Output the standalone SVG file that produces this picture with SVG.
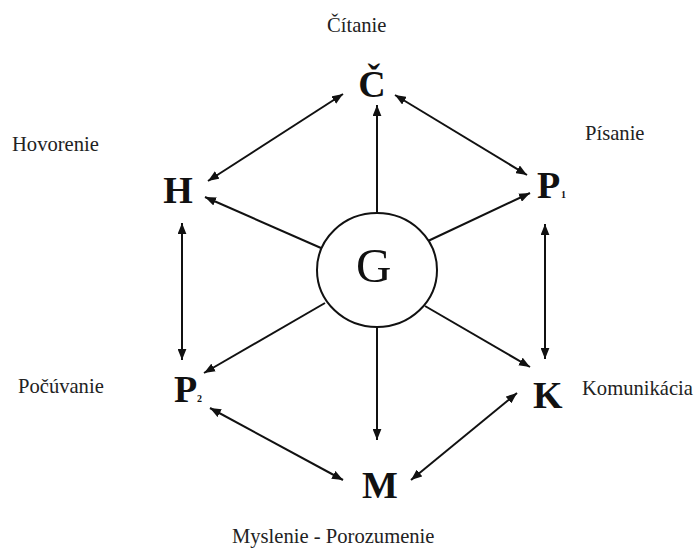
<svg xmlns="http://www.w3.org/2000/svg" width="696" height="548" viewBox="0 0 696 548">
<style>
.lbl{font-family:"Liberation Serif","Times New Roman",serif;font-size:20.6px;fill:#222}
.node{font-family:"Liberation Serif","Times New Roman",serif;font-size:38px;font-weight:bold;fill:#111}
.sub{font-family:"Liberation Serif","Times New Roman",serif;font-size:10px;font-weight:bold;fill:#111}
.ln{stroke:#111;stroke-width:2;fill:none;marker-end:url(#ah)}
.dbl{marker-start:url(#ah)}
</style>
<defs>
<marker id="ah" viewBox="0 0 10 8" refX="10" refY="4" markerWidth="11" markerHeight="9" markerUnits="userSpaceOnUse" orient="auto-start-reverse">
<path d="M0,0 L10,4 L0,8 Z" fill="#111"/>
</marker>
</defs>
<rect width="696" height="548" fill="#fff"/>
<g id="labels">
<text class="lbl" x="327" y="32">Čítanie</text>
<text class="lbl" x="12" y="151">Hovorenie</text>
<text class="lbl" x="585" y="140">Písanie</text>
<text class="lbl" x="18" y="393">Počúvanie</text>
<text class="lbl" x="582" y="395">Komunikácia</text>
<text class="lbl" x="232" y="543">Myslenie - Porozumenie</text>
</g>
<g id="connectors">
<line class="ln" x1="377" y1="214" x2="377" y2="105"/>
<line class="ln" x1="321" y1="248" x2="205" y2="197"/>
<line class="ln" x1="428" y1="241" x2="530" y2="193"/>
<line class="ln" x1="325" y1="303" x2="204" y2="373"/>
<line class="ln" x1="425" y1="306" x2="530" y2="367"/>
<line class="ln" x1="377" y1="327" x2="377" y2="440"/>
<line class="ln dbl" x1="343" y1="94" x2="208" y2="181"/>
<line class="ln dbl" x1="395" y1="95" x2="527" y2="175"/>
<line class="ln dbl" x1="182" y1="223" x2="182" y2="360"/>
<line class="ln dbl" x1="545" y1="224" x2="545" y2="359"/>
<line class="ln dbl" x1="210" y1="408" x2="343" y2="480"/>
<line class="ln dbl" x1="517" y1="393" x2="411" y2="480"/>
</g>
<g id="node-G">
<ellipse cx="377" cy="270" rx="60" ry="57" fill="#fff" stroke="#111" stroke-width="2"/>
<text x="356" y="282" style="font-family:'Liberation Serif','Times New Roman',serif;font-size:49px;fill:#111">G</text>
</g>
<g id="node-C"><text class="node" x="372" y="97" text-anchor="middle">Č</text></g>
<g id="node-H"><text class="node" x="178" y="203" text-anchor="middle">H</text></g>
<g id="node-P1"><text class="node" x="537" y="198">P</text><text class="sub" x="561" y="198">1</text></g>
<g id="node-P2"><text class="node" x="174" y="402">P</text><text class="sub" x="197" y="402">2</text></g>
<g id="node-K"><text class="node" x="533" y="408">K</text></g>
<g id="node-M"><text class="node" x="362" y="498">M</text></g>
</svg>
